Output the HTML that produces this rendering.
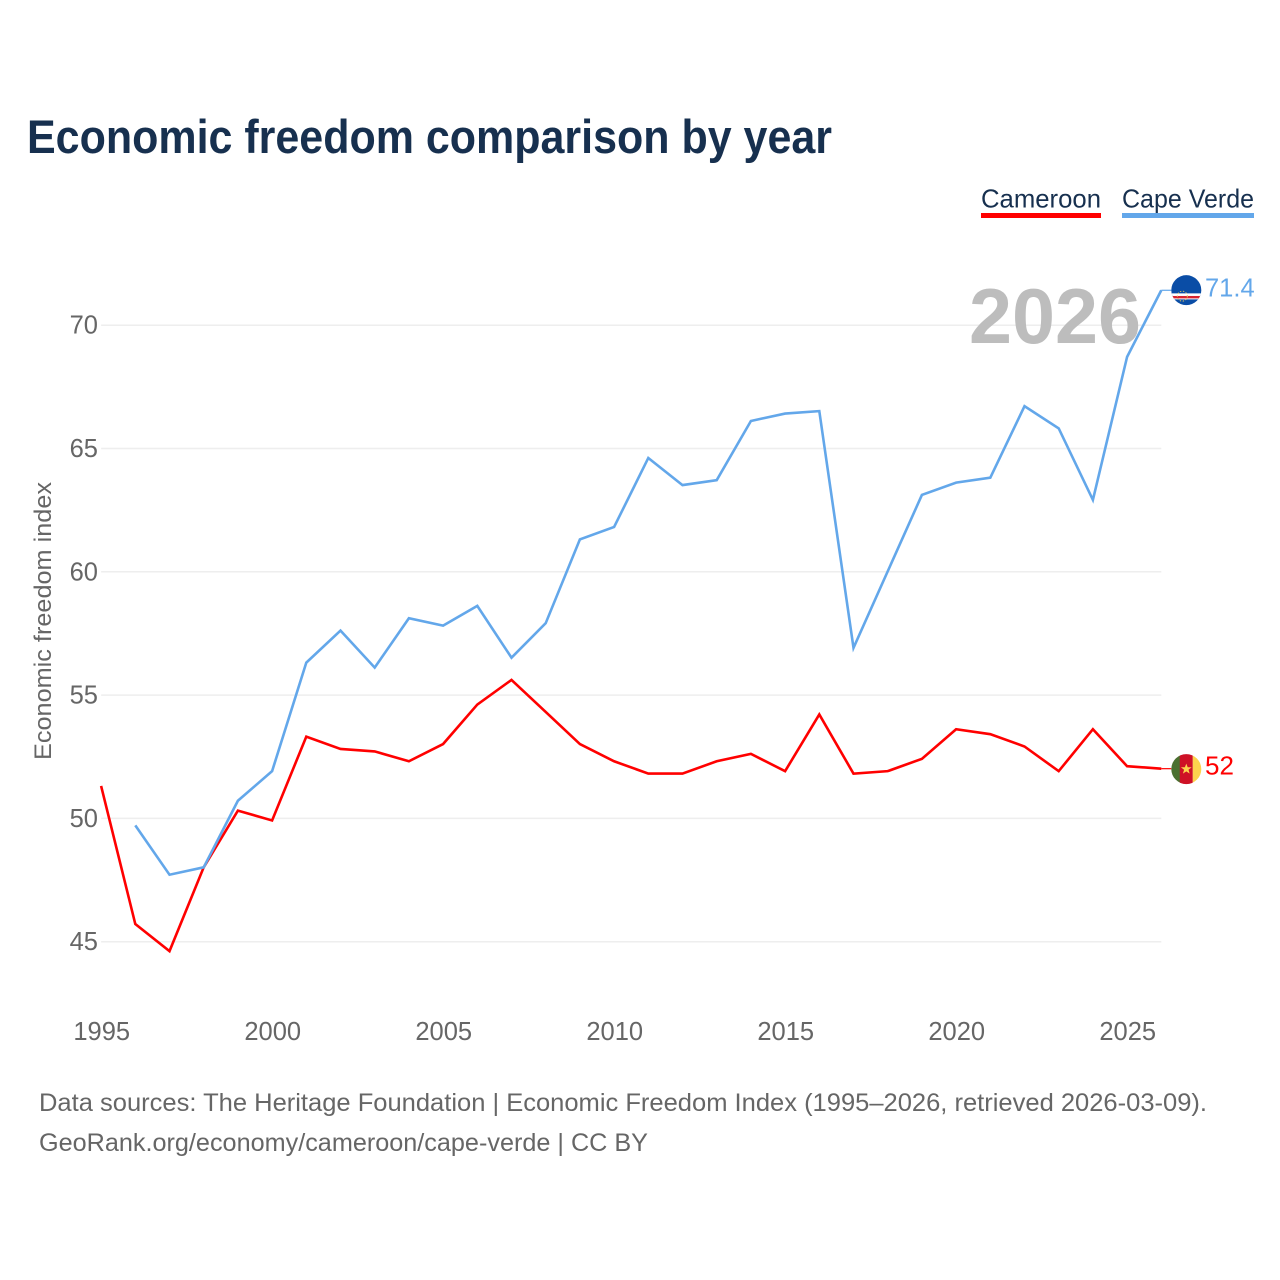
<!DOCTYPE html>
<html lang="en">
<head>
<meta charset="utf-8">
<title>Economic freedom comparison by year</title>
<style>
html,body{margin:0;padding:0;background:#fff;width:1280px;height:1280px;overflow:hidden}
svg{display:block}
text{font-family:"Liberation Sans",sans-serif}
</style>
</head>
<body>
<svg id="chart" width="1280" height="1280" viewBox="0 0 1280 1280" xmlns="http://www.w3.org/2000/svg">
  <defs>
    <clipPath id="clip-cv"><circle cx="0" cy="0" r="15"></circle></clipPath>
    <clipPath id="clip-cm"><circle cx="0" cy="0" r="15"></circle></clipPath>
  </defs>
  <rect x="0" y="0" width="1280" height="1280" fill="#fff"></rect>
  <text x="27" y="153" font-size="47" font-weight="700" fill="#17304f" textLength="805" lengthAdjust="spacingAndGlyphs">Economic freedom comparison by year</text>

  <text x="981" y="207.5" font-size="26" fill="#17304f" textLength="120" lengthAdjust="spacingAndGlyphs">Cameroon</text>
  <rect x="981" y="213" width="120" height="5" fill="#ff0000"></rect>
  <text x="1122" y="207.5" font-size="26" fill="#17304f" textLength="132" lengthAdjust="spacingAndGlyphs">Cape Verde</text>
  <rect x="1122" y="213" width="132" height="5" fill="#63a7ea"></rect>

  <g id="grid"></g>
  <g id="yticks"></g>
  <g id="xticks"></g>
  <text transform="translate(51 621) rotate(-90)" text-anchor="middle" font-size="24.5" fill="#666" textLength="278" lengthAdjust="spacingAndGlyphs">Economic freedom index</text>

  <text id="year-watermark" x="969" y="343" font-size="78" font-weight="700" fill="#bdbdbd" textLength="172" lengthAdjust="spacingAndGlyphs">2026</text>

  <path id="line-cameroon" fill="none" stroke="#ff0000" stroke-width="2.6" stroke-linejoin="miter"></path>
  <path id="line-cape-verde" fill="none" stroke="#63a7ea" stroke-width="2.6" stroke-linejoin="miter"></path>
  <line id="connector-cameroon" stroke="#ff0000" stroke-width="1.2"></line>
  <line id="connector-cape-verde" stroke="#63a7ea" stroke-width="1.2"></line>

  <g id="flag-cape-verde">
    <g clip-path="url(#clip-cv)">
      <rect x="-16" y="-16" width="32" height="32" fill="#0a4da6"></rect>
      <rect x="-16" y="3.2" width="32" height="6" fill="#fff"></rect>
      <rect x="-16" y="5.8" width="32" height="2.4" fill="#d8232f"></rect>
      <circle cx="-4" cy="6" r="5" fill="none" stroke="#e8c860" stroke-width="0.9" stroke-dasharray="1.4 1.6"></circle>
    </g>
  </g>
  <g id="flag-cameroon">
    <g clip-path="url(#clip-cm)">
      <rect x="-16" y="-16" width="10" height="32" fill="#4a7030"></rect>
      <rect x="-6.5" y="-16" width="13" height="32" fill="#ce1126"></rect>
      <rect x="6.5" y="-16" width="10" height="32" fill="#fcd34d"></rect>
      <polygon points="0,-5.5 1.4,-1.8 5.4,-1.8 2.2,0.7 3.4,4.6 0,2.3 -3.4,4.6 -2.2,0.7 -5.4,-1.8 -1.4,-1.8" fill="#fcd34d"></polygon>
    </g>
  </g>
  <text id="value-cameroon" x="1205" y="775" font-size="26" fill="#ff0000"></text>
  <text id="value-cape-verde" x="1205" y="297" font-size="25.5" fill="#63a7ea"></text>

  <text x="39" y="1111" font-size="25" fill="#666" textLength="1168" lengthAdjust="spacingAndGlyphs">Data sources: The Heritage Foundation | Economic Freedom Index (1995–2026, retrieved 2026-03-09).</text>
  <text x="39" y="1151" font-size="25" fill="#666" textLength="609" lengthAdjust="spacingAndGlyphs">GeoRank.org/economy/cameroon/cape-verde | CC BY</text>
</svg>
<script>
const years = [1995,1996,1997,1998,1999,2000,2001,2002,2003,2004,2005,2006,2007,2008,2009,2010,2011,2012,2013,2014,2015,2016,2017,2018,2019,2020,2021,2022,2023,2024,2025,2026];
const cameroon = [51.3,45.7,44.6,48.0,50.3,49.9,53.3,52.8,52.7,52.3,53.0,54.6,55.6,54.3,53.0,52.3,51.8,51.8,52.3,52.6,51.9,54.2,51.8,51.9,52.4,53.6,53.4,52.9,51.9,53.6,52.1,52.0];
const capeVerde = [null,49.7,47.7,48.0,50.7,51.9,56.3,57.6,56.1,58.1,57.8,58.6,56.5,57.9,61.3,61.8,64.6,63.5,63.7,66.1,66.4,66.5,56.9,60.0,63.1,63.6,63.8,66.7,65.8,62.9,68.7,71.4];
const yTickLabels = [45,50,55,60,65,70];
const xTickLabels = [1995,2000,2005,2010,2015,2020,2025];

const NS = 'http://www.w3.org/2000/svg';
function xScale(year){ return 101.1 + (year - 1995) * 34.2; }
function yScale(value){ return 325.2 + (70 - value) * 24.66; }
function linePath(values){
  let d = '';
  let started = false;
  values.forEach(function(v, i){
    if (v === null) return;
    d += (started ? 'L' : 'M') + xScale(years[i]).toFixed(2) + ' ' + (yScale(v) - 0.4).toFixed(2);
    started = true;
  });
  return d;
}
function setAttrs(el, attrs){
  Object.keys(attrs).forEach(function(k){ el.setAttribute(k, attrs[k]); });
}

const grid = document.getElementById('grid');
const yticks = document.getElementById('yticks');
const xticks = document.getElementById('xticks');
const xEnd = xScale(years[years.length - 1]);

yTickLabels.forEach(function(t){
  const l = document.createElementNS(NS, 'line');
  
  
  setAttrs(l, {x1: xScale(1995), x2: xEnd, y1: yScale(t), y2: yScale(t), stroke: '#eeeeee', 'stroke-width': 1.5});
  grid.appendChild(l);
  const txt = document.createElementNS(NS, 'text');
  
  
  setAttrs(txt, {x: 98, y: yScale(t) + 8.5, 'text-anchor': 'end', 'font-size': 25.5, fill: '#666'});
  txt.textContent = t;
  yticks.appendChild(txt);
});

xTickLabels.forEach(function(t){
  const txt = document.createElementNS(NS, 'text');
  
  
  setAttrs(txt, {x: xScale(t) + 0.6, y: 1040, 'text-anchor': 'middle', 'font-size': 25.5, fill: '#666'});
  txt.textContent = t;
  xticks.appendChild(txt);
});

document.getElementById('line-cameroon').setAttribute('d', linePath(cameroon));
document.getElementById('line-cape-verde').setAttribute('d', linePath(capeVerde));

const lastCm = cameroon[cameroon.length - 1];
const lastCv = capeVerde[capeVerde.length - 1];
const flagX = xEnd + 25;
setAttrs(document.getElementById('connector-cameroon'), {x1: xEnd, x2: flagX - 15, y1: yScale(lastCm) - 0.4, y2: yScale(lastCm) - 0.4});
setAttrs(document.getElementById('connector-cape-verde'), {x1: xEnd, x2: flagX - 15, y1: yScale(lastCv) - 0.4, y2: yScale(lastCv) - 0.4});
document.getElementById('flag-cameroon').setAttribute('transform', 'translate(' + flagX + ' ' + yScale(lastCm) + ')');
document.getElementById('flag-cape-verde').setAttribute('transform', 'translate(' + flagX + ' ' + (yScale(lastCv) - 0.5) + ')');

const vCm = document.getElementById('value-cameroon');
vCm.textContent = lastCm;
vCm.setAttribute('y', yScale(lastCm) + 5.5);
const vCv = document.getElementById('value-cape-verde');
vCv.textContent = lastCv;
vCv.setAttribute('y', yScale(lastCv) + 6);
document.getElementById('year-watermark').textContent = years[years.length - 1];
</script>
</body>
</html>
